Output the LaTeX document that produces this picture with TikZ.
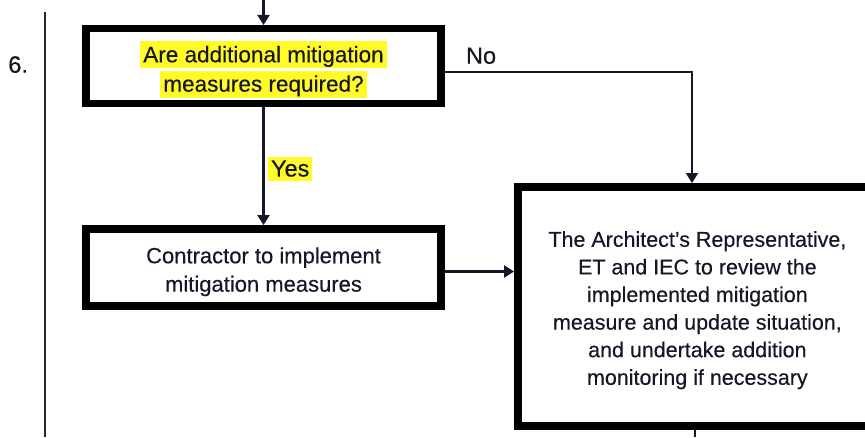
\documentclass[tikz,border=0pt]{standalone}
\usepackage{fontspec}
\setmainfont{Liberation Sans}
\newfontfamily\boxfont[FakeBold=0.3]{Liberation Sans}
\usetikzlibrary{arrows.meta}

% one drawing unit = one pixel of the 865 x 437 layout
\newdimen\pxu \pxu=0.75pt
\definecolor{ink}{RGB}{22,22,40}
\definecolor{hlyellow}{RGB}{255,250,40}
% yellow text highlight, one line at a time
\newcommand\hlline[1]{{\setlength{\fboxsep}{0pt}\colorbox{hlyellow}{\rule[-6\pxu]{0pt}{27\pxu}\kern3\pxu #1\kern3\pxu}}}

\begin{document}
\begin{tikzpicture}[x=0.75pt,y=-0.75pt,
  flowbox/.style={draw=black, line width=5.625pt, fill=white, inner sep=0pt},
  boxtext/.style={text=ink, align=center, inner sep=0pt},
  conn/.style={draw=ink, line width=1.65pt},
  arr/.style={conn, -{Triangle[width=9pt,length=7.5pt]}},
  lbl/.style={inner sep=0pt, text=ink, font=\boxfont\fontsize{17.6pt}{20pt}\selectfont}]

\clip (0,0) rectangle (865,437);

% step number and section rule
\node[anchor=base west, inner sep=0pt, text=ink,
      font=\boxfont\fontsize{17.8pt}{20pt}\selectfont] (stepno) at (8,72.7) {6.};
\coordinate (ruletop) at (45,12);
\coordinate (rulebot) at (45,437);
\draw[conn, draw=black!85, line width=1.5pt] (ruletop) -- (rulebot);

% boxes
\node[flowbox, minimum width=266.6pt, minimum height=55.9pt] (query) at (263.5,66) {};
\node[boxtext, font=\boxfont\fontsize{16.9pt}{22pt}\selectfont] (querytext)
  at ([yshift=-2.6pt]query.center)
  {\hlline{Are additional mitigation}\\\hlline{measures required?}};

\node[flowbox, minimum width=266.6pt, minimum height=58.1pt] (implement) at (263.5,267.5) {};
\node[boxtext, font=\boxfont\fontsize{16.5pt}{21.3pt}\selectfont] (implementtext)
  at ([yshift=-3.2pt]implement.center)
  {Contractor to implement\\mitigation measures};

\node[flowbox, minimum width=269.4pt, minimum height=179.6pt] (review) at (697.4,306.5) {};
\node[boxtext, font=\boxfont\fontsize{16.1pt}{20.7pt}\selectfont] (reviewtext)
  at ([yshift=-2.8pt]review.center)
  {The Architect’s Representative,\\ET and IEC to review the\\implemented mitigation\\measure and update situation,\\and undertake addition\\monitoring if necessary};

% connectors
\coordinate (topin) at (263.5,0);
\draw[arr] (topin) -- (query.north);

\draw[arr] (query) -- node[lbl, anchor=west, xshift=2.6pt, yshift=-1.9pt] (yeslbl)
  {\setlength{\fboxsep}{0pt}\colorbox{hlyellow}{\rule[-4\pxu]{0pt}{24\pxu}\kern3\pxu Yes\kern3\pxu}} (implement);

\coordinate (nofork) at (692,71.7);
\draw[arr] (query.east |- nofork)
  -- node[lbl, pos=0, anchor=base west, xshift=15pt, yshift=6pt] (nolbl) {No} (nofork)
  -- (review.north -| nofork);

\draw[arr] ([yshift=-3pt]implement.east) -- ([yshift=-3pt]implement.east -| review.west);

\coordinate (botout) at (695,437);
\draw[conn] (review.south -| botout) -- (botout);
\end{tikzpicture}
\end{document}
